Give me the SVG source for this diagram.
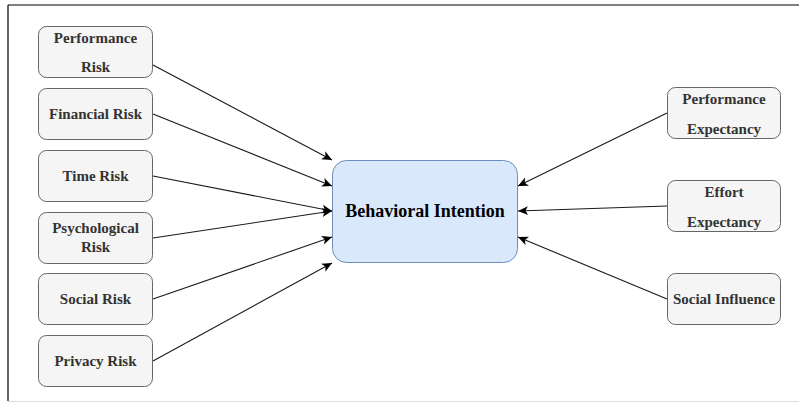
<svg xmlns="http://www.w3.org/2000/svg" width="799" height="406" viewBox="0 0 799 406">
<style>
.n rect{fill:#f5f5f5;stroke:#666;stroke-width:1}
.n text{font-family:"Liberation Serif","Times New Roman",serif;font-weight:bold;font-size:15px;fill:#333;text-anchor:middle}
.c rect{fill:#dae8fc;stroke:#6c8ebf;stroke-width:1}
.c text{font-family:"Liberation Serif","Times New Roman",serif;font-weight:bold;font-size:18px;fill:#000;text-anchor:middle}
.e line{stroke:#1a1a1a;stroke-width:1.1;marker-end:url(#ah)}
</style>
<defs>
<marker id="ah" viewBox="0 0 10 10" refX="10" refY="5" markerWidth="10" markerHeight="10" markerUnits="userSpaceOnUse" orient="auto">
<path d="M0,0.5 L10,5 L0,9.5 L2.5,5 Z" fill="#000"/>
</marker>
</defs>
<rect width="799" height="406" fill="#fff"/>
<line x1="8" y1="5" x2="799" y2="5" stroke="#000" stroke-width="1.2"/>
<line x1="8" y1="5" x2="8" y2="401" stroke="#000" stroke-width="1.2"/>
<line x1="8" y1="401.5" x2="799" y2="401.5" stroke="#ddd" stroke-width="1"/>

<g id="edges" class="e">
<line x1="153" y1="65" x2="332" y2="160"/>
<line x1="153" y1="114" x2="332" y2="186"/>
<line x1="153" y1="176" x2="332" y2="211"/>
<line x1="153" y1="238" x2="332" y2="211"/>
<line x1="153" y1="299" x2="332" y2="237"/>
<line x1="153" y1="361" x2="332" y2="263"/>
<line x1="667" y1="113" x2="518" y2="186"/>
<line x1="667" y1="206" x2="518" y2="211"/>
<line x1="667" y1="299" x2="518" y2="237"/>
</g>

<g id="performance-risk" class="n"><rect x="38.5" y="26.5" width="114" height="51" rx="8"/><text x="95.5" y="43">Performance</text><text x="95.5" y="72">Risk</text></g>
<g id="financial-risk" class="n"><rect x="38.5" y="88.5" width="114" height="51" rx="8"/><text x="95.5" y="118.5">Financial Risk</text></g>
<g id="time-risk" class="n"><rect x="38.5" y="150.5" width="114" height="51" rx="8"/><text x="95.5" y="180.5">Time Risk</text></g>
<g id="psychological-risk" class="n"><rect x="38.5" y="212.5" width="114" height="51" rx="8"/><text x="95.5" y="233">Psychological</text><text x="95.5" y="252">Risk</text></g>
<g id="social-risk" class="n"><rect x="38.5" y="273.5" width="114" height="51" rx="8"/><text x="95.5" y="303.5">Social Risk</text></g>
<g id="privacy-risk" class="n"><rect x="38.5" y="335.5" width="114" height="51" rx="8"/><text x="95.5" y="366">Privacy Risk</text></g>

<g id="behavioral-intention" class="c"><rect x="332.5" y="160.5" width="185" height="102" rx="14"/><text x="425" y="217">Behavioral Intention</text></g>

<g id="performance-expectancy" class="n"><rect x="667.5" y="87.5" width="113" height="51" rx="8"/><text x="724" y="104">Performance</text><text x="724" y="134">Expectancy</text></g>
<g id="effort-expectancy" class="n"><rect x="667.5" y="180.5" width="113" height="51" rx="8"/><text x="724" y="197">Effort</text><text x="724" y="227">Expectancy</text></g>
<g id="social-influence" class="n"><rect x="667.5" y="273.5" width="113" height="51" rx="8"/><text x="724" y="304">Social Influence</text></g>
</svg>
